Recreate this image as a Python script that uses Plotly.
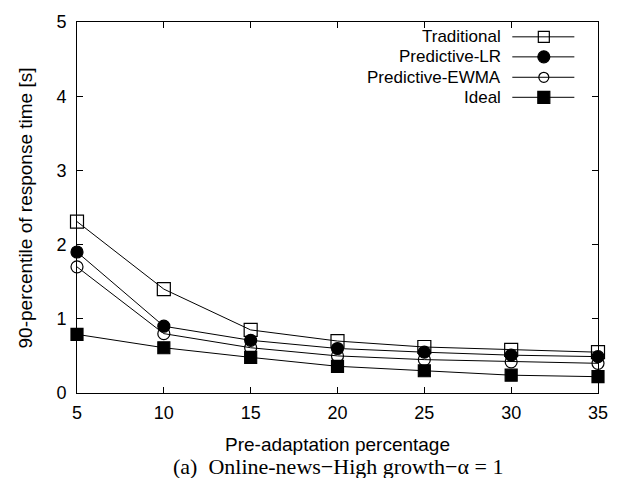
import plotly.graph_objects as go

x_vals = [5, 10, 15, 20, 25, 30, 35]
traditional = [2.31, 1.40, 0.85, 0.70, 0.62, 0.58, 0.55]
pred_lr = [1.90, 0.90, 0.71, 0.60, 0.55, 0.51, 0.49]
pred_ewma = [1.70, 0.80, 0.61, 0.50, 0.45, 0.42, 0.40]
ideal = [0.79, 0.61, 0.48, 0.36, 0.30, 0.24, 0.22]

series_names = ["Traditional", "Predictive-LR", "Predictive-EWMA", "Ideal"]
series_data = [traditional, pred_lr, pred_ewma, ideal]
symbols = ["square-open", "circle", "circle-open", "square"]
sizes = [13, 12, 12, 12]
legend_sizes = [11, 12, 10, 12]

FONT = "Liberation Sans, Arial, sans-serif"

fig = go.Figure()
for name, ys, sym, sz in zip(series_names, series_data, symbols, sizes):
    fig.add_trace(go.Scatter(
        x=x_vals, y=ys, mode="lines+markers", name=name,
        line=dict(color="black", width=1),
        marker=dict(symbol=sym, size=sz, color="black",
                    line=dict(color="black", width=1.2)),
        showlegend=False, cliponaxis=False,
    ))

# custom legend (text on the left, sample on the right, gnuplot style)
leg_y = [0.960, 0.906, 0.851, 0.797]
for name, sym, sz, ly in zip(series_names, symbols, legend_sizes, leg_y):
    fig.add_trace(go.Scatter(
        x=[0.8355, 0.9546], y=[ly, ly], mode="lines", xaxis="x2", yaxis="y2",
        line=dict(color="black", width=1), showlegend=False, hoverinfo="skip"))
    fig.add_trace(go.Scatter(
        x=[0.896], y=[ly], mode="markers", xaxis="x2", yaxis="y2",
        marker=dict(symbol=sym, size=sz, color="black",
                    line=dict(color="black", width=1.2)),
        showlegend=False, hoverinfo="skip"))
    fig.add_annotation(x=0.817, y=ly, xref="x2", yref="y2", text=name,
                       showarrow=False, xanchor="right", yanchor="middle",
                       font=dict(family=FONT, size=17, color="black"))

axis_common = dict(
    showline=True, linecolor="black", linewidth=1, mirror="allticks",
    ticks="inside", ticklen=6, tickcolor="black", tickwidth=1,
    showgrid=False, zeroline=False,
    tickfont=dict(family=FONT, size=18, color="black"),
)

fig.update_layout(
    width=620, height=478,
    margin=dict(l=77, r=14, t=22, b=85),
    paper_bgcolor="white", plot_bgcolor="white",
    xaxis=dict(range=[5, 35], tickvals=x_vals, ticklabelstandoff=3, **axis_common),
    yaxis=dict(range=[0, 5], tickvals=[0, 1, 2, 3, 4, 5], ticklabelstandoff=6, **axis_common),
    xaxis2=dict(range=[0, 1], overlaying="x", visible=False),
    yaxis2=dict(range=[0, 1], overlaying="y", visible=False),
    showlegend=False,
)

fig.add_annotation(x=0.5, y=-0.140, xref="paper", yref="paper",
                   text="Pre-adaptation percentage", showarrow=False,
                   yanchor="middle", font=dict(family=FONT, size=19, color="black"))
fig.add_annotation(x=0.5, y=-0.198, xref="paper", yref="paper",
                   text="(a)\u00a0 Online-news\u2212High growth\u2212\u03b1 = 1", showarrow=False,
                   yanchor="middle",
                   font=dict(family="Liberation Serif, Times New Roman, serif", size=22, color="black"))
fig.add_annotation(x=-0.098, y=0.5, xref="paper", yref="paper",
                   text="90-percentile of response time [s]", showarrow=False,
                   textangle=-90, xanchor="center", yanchor="middle",
                   font=dict(family=FONT, size=19, color="black"))

fig.write_html("out.html")
